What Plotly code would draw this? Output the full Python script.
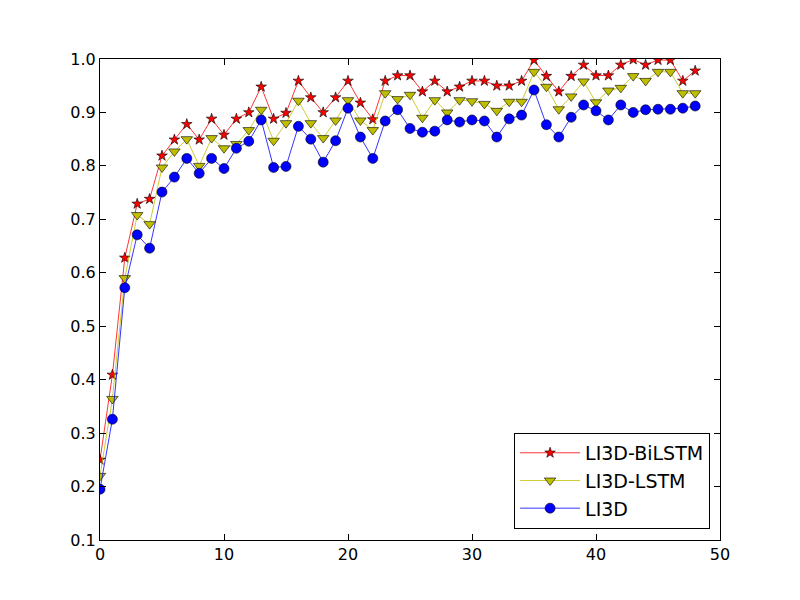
# Accuracy per epoch for the three LI3D variants
import plotly.graph_objects as go

epochs = list(range(49))

bilstm = [0.25, 0.409, 0.628, 0.729, 0.738, 0.819, 0.849, 0.878, 0.849, 0.888,
          0.858, 0.888, 0.900, 0.948, 0.888, 0.899, 0.959, 0.928, 0.900, 0.928,
          0.959, 0.918, 0.887, 0.959, 0.969, 0.969, 0.939, 0.959, 0.939, 0.948,
          0.959, 0.959, 0.950, 0.950, 0.959, 0.998, 0.968, 0.939, 0.968, 0.989,
          0.969, 0.969, 0.989, 0.999, 0.989, 0.998, 0.998, 0.959, 0.978]

lstm = [0.22, 0.364, 0.590, 0.708, 0.691, 0.797, 0.827, 0.850, 0.800, 0.852,
        0.833, 0.841, 0.867, 0.905, 0.847, 0.880, 0.922, 0.880, 0.852, 0.885,
        0.923, 0.885, 0.867, 0.936, 0.925, 0.933, 0.890, 0.923, 0.900, 0.923,
        0.921, 0.916, 0.903, 0.920, 0.920, 0.976, 0.948, 0.906, 0.930, 0.958,
        0.919, 0.941, 0.946, 0.968, 0.959, 0.976, 0.976, 0.936, 0.936]

li3d = [0.195, 0.326, 0.572, 0.671, 0.646, 0.751, 0.779, 0.814, 0.786, 0.814,
        0.795, 0.833, 0.846, 0.886, 0.797, 0.799, 0.874, 0.850, 0.807, 0.847,
        0.908, 0.854, 0.814, 0.884, 0.905, 0.870, 0.863, 0.865, 0.886, 0.882,
        0.886, 0.884, 0.854, 0.888, 0.895, 0.942, 0.877, 0.854, 0.891, 0.914,
        0.903, 0.886, 0.914, 0.900, 0.905, 0.906, 0.906, 0.908, 0.912]

series = [
    ("LI3D-BiLSTM", bilstm, "#ff0000", "star", 8),
    ("LI3D-LSTM", lstm, "#bfbf00", "triangle-down", 10),
    ("LI3D", li3d, "#0000ff", "circle", 10),
]

fig = go.Figure()
for name, vals, color, symbol, size in series:
    fig.add_trace(go.Scatter(
        x=epochs, y=vals, name=name, mode="lines+markers",
        line=dict(color=color, width=0.8),
        marker=dict(symbol=symbol, size=size, color=color,
                    line=dict(color="black", width=0.6)),
    ))

axis_style = dict(
    showgrid=False, zeroline=False, showline=True, linecolor="black",
    linewidth=1, mirror="ticks", ticks="inside", ticklen=6,
    tickcolor="black", tickfont=dict(size=16, color="black"),
)

fig.update_xaxes(range=[0, 50], dtick=10, **axis_style)
fig.update_yaxes(range=[0.1, 1.0], dtick=0.1, tickformat=".1f", **axis_style)

# page body adds an 8px offset, so margins are shifted to compensate
fig.update_layout(
    width=800, height=600,
    margin=dict(l=92, r=88, t=51, b=68),
    plot_bgcolor="white", paper_bgcolor="white",
    font=dict(family="DejaVu Sans", color="black"),
    legend=dict(
        x=0.984, y=0.023, xanchor="right", yanchor="bottom",
        bordercolor="black", borderwidth=1, bgcolor="white",
        font=dict(size=19), itemwidth=60, tracegroupgap=4,
    ),
)

fig.write_html("out.html")
